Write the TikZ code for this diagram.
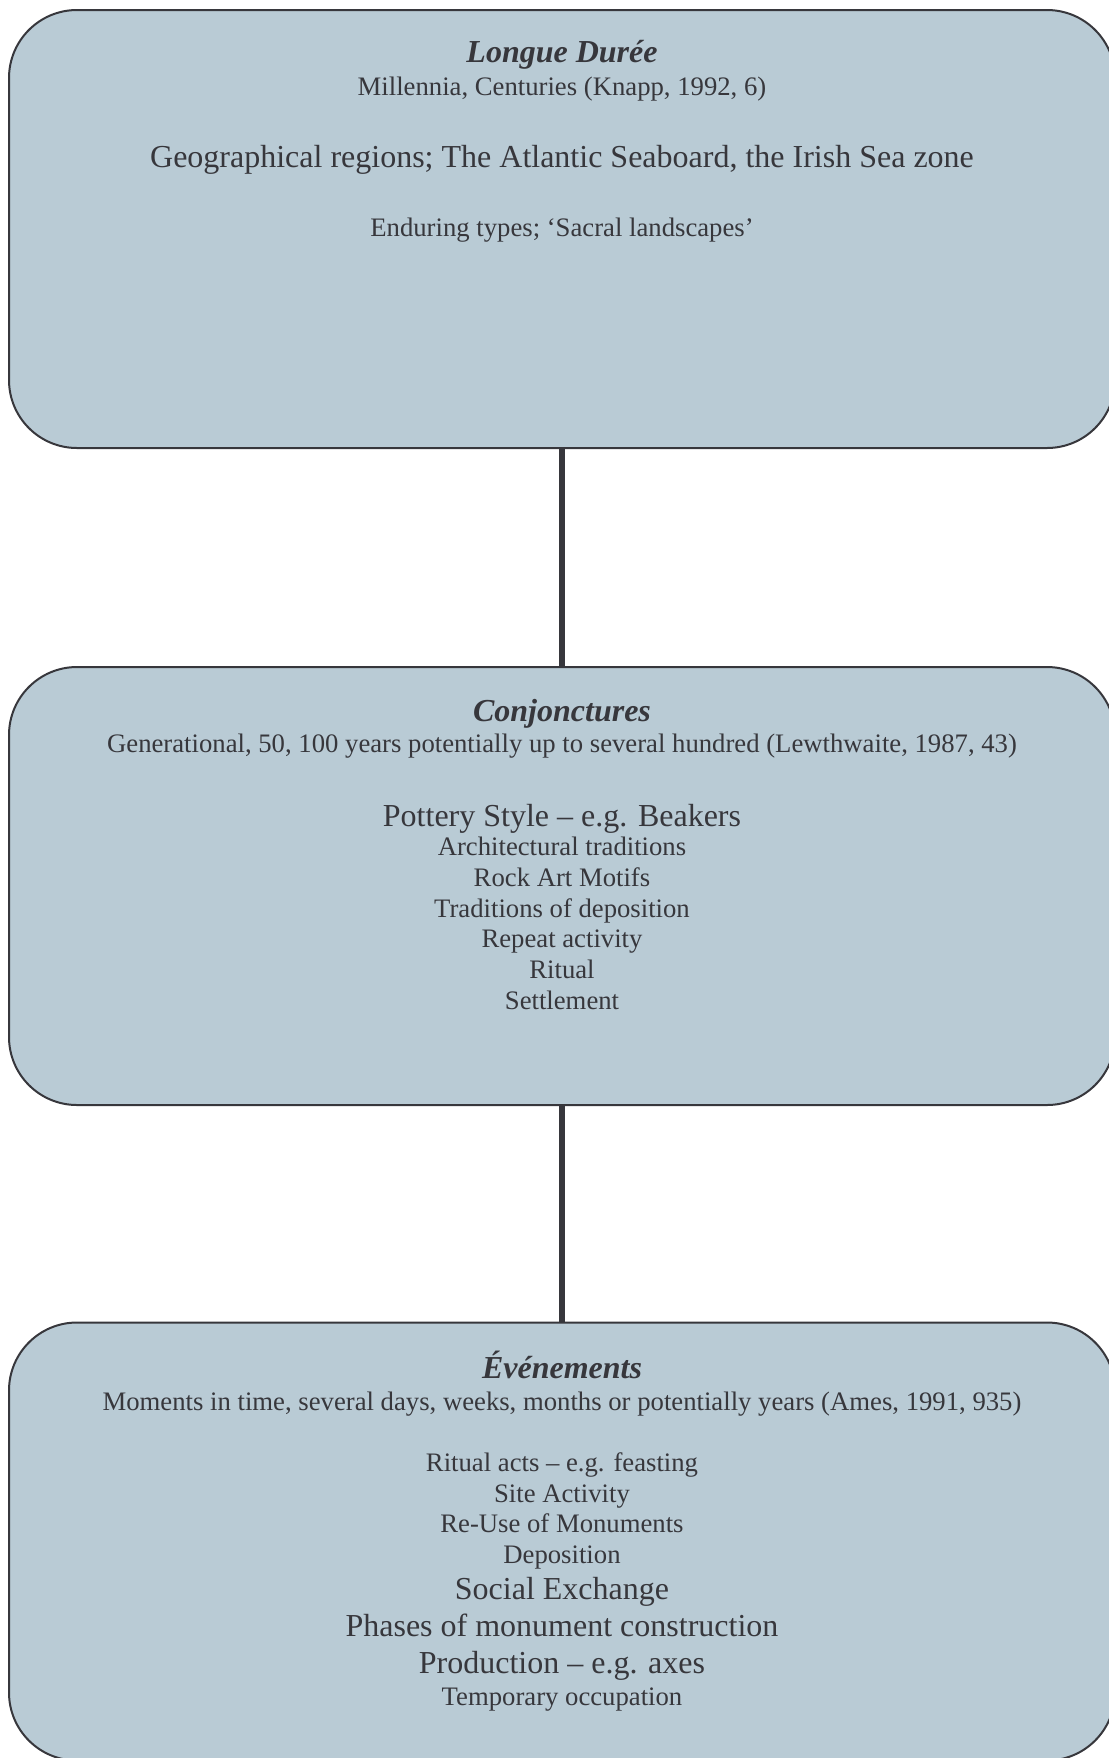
\documentclass[tikz,border=0pt]{standalone}
\usepackage{fontspec}
\setmainfont{Liberation Serif}
\usetikzlibrary{positioning}
\definecolor{PanelBlue}{RGB}{185,203,213}
\definecolor{InkGray}{RGB}{55,55,60}

\begin{document}
\begin{tikzpicture}[x=0.5pt, y=-0.5pt,
  panel/.style={draw=InkGray, line width=1pt, fill=PanelBlue, rounded corners=34pt,
    minimum width=553pt, minimum height=219pt, inner sep=0pt},
  link/.style={draw=InkGray, line width=3pt},
  title/.style={font=\fontsize{16}{19}\selectfont\bfseries\itshape, text=InkGray},
  small/.style={font=\fontsize{13.35}{15.35}\selectfont, text=InkGray, align=center},
  large/.style={font=\fontsize{16}{18.5}\selectfont, text=InkGray, align=center}]
  \useasboundingbox (0,0) rectangle (1109,1758);
  \clip (0,0) rectangle (1109,1758);
  % Panels
  \node[panel] (longue) at (562,229) {};
  \node[panel] (conj) at (562,886) {};
  \node[panel] (event) at (562,1541.5) {};
  % Connectors
  \draw[link] (longue.south) -- (conj.north);
  \draw[link] (conj.south) -- (event.north);
  % Longue duree
  \node[title] (longueT) at (562,55) {Longue Durée};
  \node[small] (longueS) at (562,89.5) {Millennia, Centuries (Knapp, 1992, 6)};
  \node[large] (longueA) at (562,159.5) {Geographical regions; The Atlantic Seaboard, the Irish Sea zone};
  \node[small] (longueB) at (562,230) {Enduring types; ‘Sacral landscapes’};
  % Conjonctures
  \node[title] (conjT) at (562,713.5) {Conjonctures};
  \node[small] (conjS) at (562,746.5) {Generational, 50, 100 years potentially up to several hundred (Lewthwaite, 1987, 43)};
  \node[large] (conjA) at (562,818.5) {Pottery Style – e.g. Beakers};
  \node[small] (conjB) at (562,923.5) {Architectural traditions\\Rock Art Motifs\\Traditions of deposition\\Repeat activity\\Ritual\\Settlement};
  % Evenements
  \node[title] (eventT) at (562,1364.8) {Événements};
  \node[small] (eventS) at (562,1404) {Moments in time, several days, weeks, months or potentially years (Ames, 1991, 935)};
  \node[small] (eventA) at (562,1511) {Ritual acts – e.g. feasting\\Site Activity\\Re-Use of Monuments\\Deposition};
  \node[large] (eventB) at (562,1628.5) {Social Exchange\\Phases of monument construction\\Production – e.g. axes};
  \node[small] (eventC) at (562,1699.5) {Temporary occupation};
\end{tikzpicture}
\end{document}
